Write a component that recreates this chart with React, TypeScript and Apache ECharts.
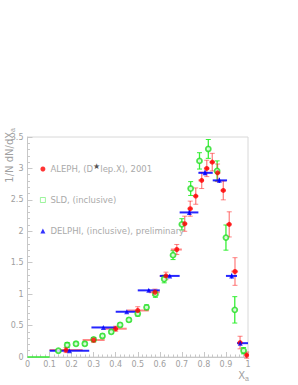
import React, { useEffect, useRef } from "react";
import * as echarts from "echarts";

// ALEPH: [x, y, xlo, xhi, yerr]
const alephData: number[][] = [
  [0.175, 0.11, 0.1, 0.25, 0.04],
  [0.3, 0.27, 0.25, 0.35, 0.04],
  [0.4, 0.45, 0.35, 0.45, 0.04],
  [0.5, 0.74, 0.45, 0.55, 0.06],
  [0.578, 1.03, 0.55, 0.6, 0.05],
  [0.628, 1.29, 0.6, 0.65, 0.06],
  [0.677, 1.71, 0.65, 0.7, 0.08],
  [0.713, 2.12, 0.7, 0.725, 0.12],
  [0.738, 2.36, 0.725, 0.75, 0.12],
  [0.763, 2.56, 0.75, 0.775, 0.13],
  [0.79, 2.81, 0.775, 0.8, 0.13],
  [0.813, 3.0, 0.8, 0.825, 0.13],
  [0.838, 3.1, 0.825, 0.85, 0.14],
  [0.862, 2.93, 0.85, 0.875, 0.14],
  [0.888, 2.65, 0.875, 0.9, 0.15],
  [0.915, 2.11, 0.9, 0.925, 0.2],
  [0.941, 1.36, 0.925, 0.955, 0.22],
  [0.964, 0.23, 0.955, 0.975, 0.1],
  [0.994, 0.03, 0.985, 1.0, 0.05],
];

// SLD: [x, y, xlo, xhi, yerr]
const sldData: number[][] = [
  [0.05, 0.0, 0.0, 0.1, 0.0],
  [0.14, 0.1, 0.13, 0.15, 0.02],
  [0.18, 0.19, 0.17, 0.19, 0.04],
  [0.22, 0.21, 0.21, 0.23, 0.03],
  [0.26, 0.21, 0.25, 0.27, 0.03],
  [0.3, 0.28, 0.29, 0.31, 0.03],
  [0.34, 0.335, 0.33, 0.35, 0.03],
  [0.38, 0.4, 0.37, 0.39, 0.03],
  [0.42, 0.51, 0.41, 0.43, 0.03],
  [0.46, 0.59, 0.45, 0.47, 0.03],
  [0.5, 0.69, 0.49, 0.51, 0.04],
  [0.54, 0.79, 0.53, 0.55, 0.04],
  [0.58, 1.0, 0.57, 0.59, 0.05],
  [0.62, 1.24, 0.61, 0.63, 0.06],
  [0.66, 1.62, 0.65, 0.67, 0.07],
  [0.7, 2.11, 0.69, 0.71, 0.09],
  [0.74, 2.68, 0.73, 0.75, 0.11],
  [0.78, 3.12, 0.77, 0.79, 0.13],
  [0.82, 3.31, 0.81, 0.83, 0.15],
  [0.86, 2.96, 0.85, 0.87, 0.16],
  [0.9, 1.9, 0.89, 0.91, 0.2],
  [0.94, 0.75, 0.93, 0.95, 0.21],
  [0.98, 0.1, 0.97, 0.99, 0.05],
];

// DELPHI: [x, y, xlo, xhi, yerr]
const delphiData: number[][] = [
  [0.19, 0.1, 0.1, 0.28, 0.01],
  [0.344, 0.47, 0.29, 0.4, 0.01],
  [0.45, 0.72, 0.4, 0.5, 0.01],
  [0.55, 1.06, 0.5, 0.6, 0.02],
  [0.645, 1.29, 0.6, 0.69, 0.02],
  [0.734, 2.3, 0.69, 0.775, 0.04],
  [0.805, 2.93, 0.775, 0.84, 0.04],
  [0.87, 2.81, 0.84, 0.905, 0.04],
  [0.926, 1.29, 0.9, 0.95, 0.04],
  [0.965, 0.22, 0.95, 1.0, 0.03],
];

const xTicks = [0, 0.1, 0.2, 0.3, 0.4, 0.5, 0.6, 0.7, 0.8, 0.9, 1];
const yTicks = [0, 0.5, 1, 1.5, 2, 2.5, 3, 3.5];

const ALEPH = "ALEPH";
const SLD = "SLD, (inclusive)";
const DELPHI = "DELPHI, (inclusive), preliminary";

function toErr(d: number[][]) {
  return d.map((r) => [r[0], r[1], r[2], r[3], r[1] - r[4], r[1] + r[4]]);
}

function errSeries(d: number[][], color: string, width: number, opacity: number, cap: number) {
  return {
    type: "custom",
    silent: true,
    z: 2,
    data: toErr(d),
    encode: { x: 0, y: 1 },
    renderItem: (params: any, api: any) => {
      const x = api.value(0), y = api.value(1);
      const pl = api.coord([api.value(2), y]);
      const pr = api.coord([api.value(3), y]);
      const pb = api.coord([x, api.value(4)]);
      const pt = api.coord([x, api.value(5)]);
      const style = { stroke: color, lineWidth: width, opacity };
      const children: any[] = [
        { type: "line", shape: { x1: pl[0], y1: pl[1], x2: pr[0], y2: pr[1] }, style },
      ];
      if (Math.abs(pb[1] - pt[1]) > 2) {
        children.push({ type: "line", shape: { x1: pb[0], y1: pb[1], x2: pt[0], y2: pt[1] }, style: { stroke: color, lineWidth: 1.3, opacity } });
        if (cap > 0) {
          children.push({ type: "line", shape: { x1: pb[0] - cap, y1: pb[1], x2: pb[0] + cap, y2: pb[1] }, style: { stroke: color, lineWidth: 1, opacity } });
          children.push({ type: "line", shape: { x1: pt[0] - cap, y1: pt[1], x2: pt[0] + cap, y2: pt[1] }, style: { stroke: color, lineWidth: 1, opacity } });
        }
      }
      return { type: "group", children };
    },
  };
}

export default function App() {
  const ref = useRef<HTMLDivElement>(null);
  useEffect(() => {
    if (!ref.current) return;
    const chart = echarts.init(ref.current, undefined, { renderer: "svg" });
    const axisCommon = {
      axisLine: { show: true, lineStyle: { color: "#c8c8c8", width: 1 } },
      axisTick: { show: true, inside: true, length: 5, lineStyle: { color: "#c8c8c8" } },
      minorTick: { show: true, splitNumber: 5, length: 2.5, lineStyle: { color: "#c8c8c8" } },
      splitLine: { show: false },
      axisLabel: { color: "#a0a0a0", fontSize: 8, fontFamily: "DejaVu Sans" },
    };
    chart.setOption({
      animation: false,
      backgroundColor: "#fff",
      grid: { left: 27.5, right: 50, top: 137, bottom: 28, show: true, borderColor: "#d8d8d8", borderWidth: 1 },
      xAxis: {
        type: "value",
        min: xTicks[0],
        max: xTicks[xTicks.length - 1],
        interval: 0.1,
        ...axisCommon,
        axisLabel: { ...axisCommon.axisLabel, margin: 3, formatter: (v: number) => String(Math.round(v * 10) / 10) },
      },
      yAxis: {
        type: "value",
        min: yTicks[0],
        max: yTicks[yTicks.length - 1],
        interval: 0.5,
        ...axisCommon,
        axisLabel: { ...axisCommon.axisLabel, margin: 4 },
      },
      legend: {
        orient: "vertical",
        left: 40,
        top: 162,
        itemGap: 22,
        itemWidth: 5,
        itemHeight: 5,
        padding: 0,
        textStyle: {
          color: "#aaaaaa",
          fontSize: 8.5,
          fontFamily: "DejaVu Sans",
          rich: {
            sup: { fontSize: 8, color: "#555", verticalAlign: "top", padding: [0, 0, 6, 0] },
          },
        },
        formatter: (name: string) => (name === ALEPH ? "ALEPH, (D{sup|★}lep.X), 2001" : name),
        data: [
          { name: ALEPH, icon: "circle" },
          { name: SLD, icon: "rect", itemStyle: { color: "#fff", borderColor: "#66ee66", borderWidth: 0.8 } },
          { name: DELPHI, icon: "triangle" },
        ],
      },
      graphic: [
        {
          type: "text",
          x: 9,
          y: 128,
          rotation: Math.PI / 2,
          style: {
            text: "1/N dN/dX{sub|a}",
            align: "right",
            verticalAlign: "middle",
            fill: "#a0a0a0",
            font: "10px DejaVu Sans",
            rich: { sub: { fontSize: 7, fill: "#a0a0a0", verticalAlign: "bottom", padding: [6, 0, 0, 0] } },
          },
        },
        {
          type: "text",
          x: 249,
          y: 375,
          style: {
            text: "X{sub|a}",
            align: "right",
            verticalAlign: "middle",
            fill: "#a0a0a0",
            font: "10px DejaVu Sans",
            rich: { sub: { fontSize: 7, fill: "#a0a0a0", verticalAlign: "bottom", padding: [6, 0, 0, 0] } },
          },
        },
      ],
      series: [
        errSeries(sldData, "#22ee22", 1.5, 0.9, 2.5),
        errSeries(alephData, "#ff2020", 2, 0.55, 2.5),
        errSeries(delphiData, "#0000ff", 2, 0.85, 0),
        {
          name: SLD,
          type: "scatter",
          z: 3,
          symbol: "circle",
          symbolSize: 5,
          itemStyle: { color: "#fff", borderColor: "#22dd22", borderWidth: 1.8 },
          data: sldData.filter((r) => r[1] > 0).map((r) => [r[0], r[1]]),
        },
        {
          name: ALEPH,
          type: "scatter",
          z: 4,
          symbol: "circle",
          symbolSize: 5,
          itemStyle: { color: "#ff0000" },
          data: alephData.map((r) => [r[0], r[1]]),
        },
        {
          name: DELPHI,
          type: "scatter",
          z: 5,
          symbol: "triangle",
          symbolSize: 5,
          itemStyle: { color: "#0000ff" },
          data: delphiData.map((r) => [r[0], r[1]]),
        },
      ],
    });
    return () => chart.dispose();
  }, []);
  return <div ref={ref} style={{ position: "fixed", left: 0, top: 0, width: 298, height: 385, background: "#fff" }} />;
}
